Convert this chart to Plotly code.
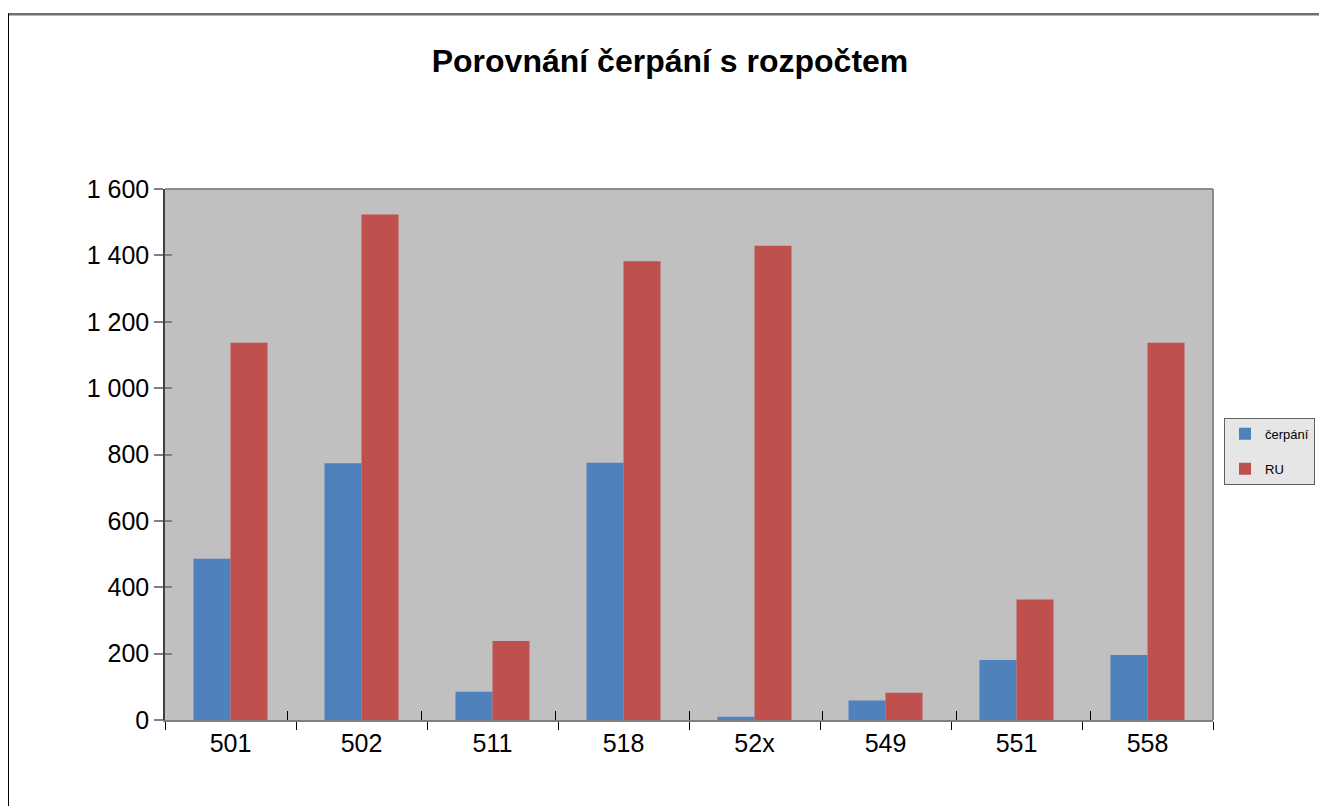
import plotly.graph_objects as go

categories = ["501", "502", "511", "518", "52x", "549", "551", "558"]
cerpani = [486, 774, 85, 775, 10, 59, 181, 196]
ru = [1137, 1523, 238, 1382, 1429, 82, 363, 1137]
y_ticks = [0, 200, 400, 600, 800, 1000, 1200, 1400, 1600]

# page body has an 8px margin; work in page pixels, convert to figure pixels
OFF = 8
W, H = 1327 - OFF, 806 - OFF
L, R, T, B = 165 - OFF, 1213 - OFF, 189 - OFF, 720.5 - OFF
pw, ph = R - L, B - T


def px(x):
    return (x - OFF - L) / pw


def py(y):
    return (B - (y - OFF)) / ph


font = "Liberation Sans, Arial, sans-serif"

fig = go.Figure()
fig.add_trace(go.Bar(x=categories, y=cerpani, name="čerpání", legendgroup="a",
                     marker=dict(color="#4F81BD", line=dict(width=0))))
fig.add_trace(go.Bar(x=categories, y=ru, name="RU", legendgroup="b",
                     marker=dict(color="#C0504D", line=dict(width=0))))
# invisible trace carrying the overlay axes used for inside tick marks
fig.add_trace(go.Scatter(x=categories, y=[0] * len(categories), xaxis="x2", yaxis="y2",
                         mode="markers", marker=dict(opacity=0), showlegend=False,
                         hoverinfo="skip"))

fig.update_layout(
    width=W, height=H,
    margin=dict(l=L, r=W - R, t=T, b=H - B, pad=0, autoexpand=False),
    paper_bgcolor="white",
    plot_bgcolor="#C0C0C0",
    separators=", ",
    barmode="group",
    bargap=0.435,
    bargroupgap=0,
    title=dict(text="<b>Porovnání čerpání s rozpočtem</b>", x=(670 - OFF) / W,
               xanchor="center", y=1 - (61 - OFF) / H, yanchor="middle",
               font=dict(family=font, size=32, color="black")),
    font=dict(family=font, color="black"),
    xaxis=dict(type="category", categoryorder="array", categoryarray=categories,
               showgrid=False, showline=True, linecolor="#7f7f7f", linewidth=2,
               ticks="outside", ticklen=8, tickcolor="black", tickwidth=1,
               tickson="boundaries", tickfont=dict(size=25), zeroline=False),
    yaxis=dict(range=[0, 1600], tickvals=y_ticks, tickformat=",",
               showgrid=False, showline=True, linecolor="#404040", linewidth=1.5,
               ticks="outside", ticklen=9, tickcolor="#7f7f7f", tickwidth=2,
               tickfont=dict(size=25), zeroline=False),
    xaxis2=dict(type="category", categoryorder="array", categoryarray=categories,
                overlaying="x", anchor="y", showgrid=False, showline=False,
                ticks="inside", ticklen=9, tickcolor="black", tickwidth=1,
                tickson="boundaries", showticklabels=False, zeroline=False),
    yaxis2=dict(range=[0, 1600], tickvals=y_ticks, overlaying="y", anchor="x",
                showgrid=False, showline=False, ticks="inside", ticklen=7,
                tickcolor="#7f7f7f", tickwidth=2, showticklabels=False,
                zeroline=False),
    legend=dict(x=px(1224), y=py(418), xanchor="left", yanchor="top",
                bgcolor="#E6E6E6", bordercolor="#606060", borderwidth=1,
                font=dict(family=font, size=13, color="black"),
                itemwidth=30, traceorder="grouped", tracegroupgap=15),
    showlegend=True,
    shapes=[
        # plot frame top and right
        dict(type="line", xref="paper", yref="paper", x0=0, x1=1, y0=1, y1=1,
             line=dict(color="#8c8c8c", width=2)),
        dict(type="line", xref="paper", yref="paper", x0=1, x1=1, y0=0, y1=1,
             line=dict(color="#8c8c8c", width=2)),
        # outer chart border
        dict(type="line", xref="paper", yref="paper", x0=px(8.5), x1=px(1340),
             y0=py(14), y1=py(14), line=dict(color="#707070", width=2.5)),
        dict(type="line", xref="paper", yref="paper", x0=px(8.5), x1=px(8.5),
             y0=py(13), y1=py(820), line=dict(color="black", width=1)),
    ],
)

fig.write_html("out.html")
